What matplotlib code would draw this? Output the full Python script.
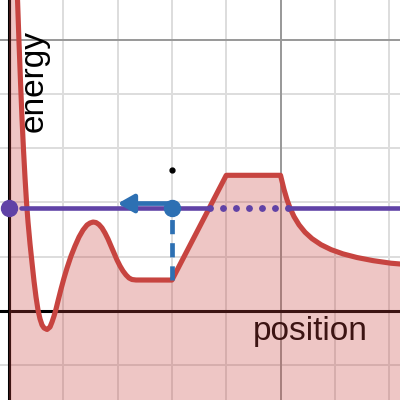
import matplotlib
matplotlib.use("Agg")
import matplotlib.pyplot as plt

# potential energy curve (grid units)
curve_x = [0.05, 0.157, 0.184, 0.212, 0.239, 0.267, 0.295, 0.322, 0.350, 0.387, 0.424,
           0.460, 0.497, 0.534, 0.571, 0.608, 0.645, 0.700, 0.755, 0.792, 0.829,
           0.866, 0.902, 0.958, 1.013, 1.068, 1.142, 1.215, 1.289, 1.363, 1.436,
           1.492, 1.547, 1.602, 1.657, 1.713, 1.768, 1.823, 1.878, 1.934, 1.989,
           2.044, 2.099, 2.155, 2.210, 2.265, 2.339, 3.0, 4.0, 5.0,
           5.064, 5.120, 5.175, 5.249, 5.341, 5.451, 5.580, 5.746, 5.930, 6.151,
           6.409, 6.703, 7.035, 7.201]
curve_y = [9.0, 5.727, 4.954, 4.217, 3.554, 2.965, 2.449, 2.007, 1.639, 1.234, 0.884,
           0.552, 0.258, 0.018, -0.147, -0.258, -0.313, -0.341, -0.295, -0.203, -0.092,
           0.037, 0.184, 0.405, 0.608, 0.792, 1.013, 1.197, 1.363, 1.492, 1.584,
           1.621, 1.639, 1.630, 1.593, 1.529, 1.436, 1.326, 1.197, 1.068, 0.939,
           0.829, 0.737, 0.663, 0.608, 0.580, 0.571, 0.57, 2.5, 2.5,
           2.239, 2.048, 1.897, 1.738, 1.587, 1.451, 1.333, 1.221, 1.131, 1.052,
           0.985, 0.928, 0.880, 0.866]

energy = 1.9
line_start = 0.22
forbidden = [3.70, 5.18]      # where the energy line is drawn dotted
particle = (3.0, 1.9)
floor_y = 0.57
arrow_end = 2.0
arrow_y = 1.98
marker_pt = (3.0, 2.6)

RED = "#c74440"
BLUE = "#2d70b3"
PURPLE = "#6042a6"

XLIM = (-0.166, 7.2)
YLIM = (-1.64, 5.73)

fig = plt.figure(figsize=(4, 4), dpi=100)
ax = fig.add_axes([0, 0, 1, 1])
ax.set_xlim(*XLIM)
ax.set_ylim(*YLIM)

# grid
ax.set_xticks(range(0, 8))
ax.set_yticks(range(-1, 6))
ax.grid(True, color="#dddddd", lw=1.4)
ax.set_axisbelow(True)
ax.tick_params(length=0, labelbottom=False, labelleft=False)
for s in ax.spines.values():
    s.set_visible(False)
ax.axvline(5, color="#999999", lw=1.4, zorder=1)
ax.axhline(5, color="#999999", lw=1.4, zorder=1)

# axes
ax.axhline(0, color="black", lw=2.2, zorder=2)
ax.axvline(0, color="black", lw=2.2, zorder=2)

# labels (under the fill)
ax.text(5.55, -0.53, "position", fontsize=24, family="Liberation Sans",
        ha="center", va="baseline", color="black", zorder=3)
ax.text(0.61, 4.24, "energy", fontsize=24, family="Liberation Sans",
        rotation=90, rotation_mode="anchor", ha="center", va="baseline",
        color="black", zorder=3)

# potential
ax.fill_between(curve_x, curve_y, YLIM[0] - 1, where=[x >= 0 for x in curve_x],
                color=RED, alpha=0.3, lw=0, zorder=4)
ax.fill_between([0, curve_x[0]], [20, 20], YLIM[0] - 1, color=RED, alpha=0.3, lw=0, zorder=4)
ax.plot(curve_x, curve_y, color=RED, lw=3.7, solid_joinstyle="round", zorder=5)

# energy level
ax.plot([line_start, forbidden[0]], [energy, energy], color=PURPLE, lw=3.3,
        solid_capstyle="round", zorder=6)
ax.plot(forbidden, [energy, energy], color=PURPLE, lw=5,
        linestyle=(0, (0.001, 1.87)), dash_capstyle="round", zorder=6)
ax.plot([forbidden[1], XLIM[1] + 1], [energy, energy], color=PURPLE, lw=3.3,
        solid_capstyle="round", zorder=6)
ax.plot([0], [energy], "o", color=PURPLE, ms=11.5, zorder=8)

# particle
ax.plot([particle[0], particle[0]], [floor_y, particle[1]], color=BLUE, lw=3.4,
        linestyle=(0, (3.0, 1.9)), zorder=7)
ax.annotate("", xy=(arrow_end, arrow_y), xytext=(particle[0], arrow_y),
            arrowprops=dict(arrowstyle="-|>,head_length=0.8,head_width=0.45",
                            mutation_scale=12, lw=3.4, color=BLUE,
                            shrinkA=0, shrinkB=0), zorder=7)
ax.plot([particle[0]], [particle[1]], "o", color=BLUE, ms=11.5, zorder=8)
ax.plot([marker_pt[0]], [marker_pt[1]], "o", color="black", ms=3.5, zorder=8)

fig.savefig("out.png", dpi=100)
